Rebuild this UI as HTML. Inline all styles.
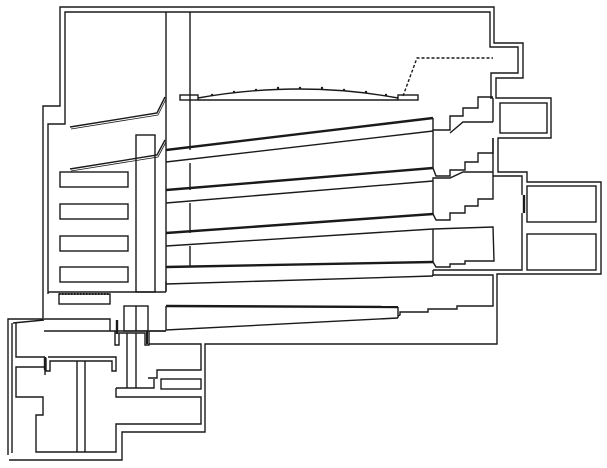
<!DOCTYPE html>
<html><head><meta charset="utf-8"><style>
html,body{margin:0;padding:0;background:#fff;}
svg{display:block;}
</style></head><body>
<svg width="607" height="468" viewBox="0 0 607 468" xmlns="http://www.w3.org/2000/svg" fill="none" stroke="#1a1a1a" stroke-width="1.4" stroke-linejoin="miter">
<rect width="607" height="468" fill="#fff" stroke="none"/>
<!-- outer wall -->
<polyline points="8,455 8,319 43,319 43,106 60,106 60,7 494,7 494,43 523,43 523,78 496,78 496,98 551,98 551,138 498,138 498,172 527,172 527,182 601,182 601,274 497,274 497,344 205,344 205,432 122,432 122,460 9,460"/>
<!-- inner wall -->
<polyline points="48,294 48,124 65,124 65,12 490,12 490,47 518,47 518,73 491,73 491,98"/>
<line x1="490" y1="98" x2="493" y2="98"/>
<line x1="493" y1="98" x2="493" y2="122"/>
<rect x="500" y="103" width="47" height="30"/>
<line x1="493" y1="138" x2="493" y2="176"/>
<polyline points="493,176 522,176 522,195"/>
<line x1="524" y1="195" x2="524" y2="213" stroke-width="2.4"/>
<polyline points="522,213 522,270 433,270"/>
<rect x="527" y="186" width="69" height="36"/>
<rect x="527" y="234" width="69" height="36"/>
<!-- columns -->
<line x1="166" y1="12" x2="166" y2="292"/>
<line x1="190" y1="12" x2="190" y2="150"/>
<line x1="190" y1="163" x2="190" y2="190"/>
<line x1="190" y1="203" x2="190" y2="233"/>
<line x1="190" y1="246" x2="190" y2="267"/>
<rect x="136" y="135" width="19" height="157"/>
<line x1="48" y1="292" x2="166" y2="292"/>
<!-- small rooms left -->
<rect x="60" y="172" width="68" height="15"/>
<rect x="60" y="204" width="68" height="15"/>
<rect x="60" y="236" width="68" height="15"/>
<rect x="60" y="267" width="68" height="15"/>
<rect x="59" y="294" width="51" height="10"/>
<line x1="59" y1="294" x2="110" y2="294" stroke-dasharray="1.5,1.5" stroke-width="2"/>
<!-- balconies left -->
<polyline points="70,127 157,113 165,97"/>
<polyline points="71,129 158,115 166,99" stroke-width="0.8"/>
<polyline points="70,169 157,155 165,140"/>
<polyline points="71,171 158,157 166,142" stroke-width="0.8"/>
<!-- ceiling -->
<rect x="180" y="95" width="18" height="5"/>
<path d="M198,98 Q300,80 398,98"/>
<line x1="198" y1="100" x2="398" y2="100"/>
<rect x="398" y="95" width="20" height="5"/>
<polyline points="403,96 417,58 493,58" stroke-dasharray="3,2"/>
<g fill="#1a1a1a" stroke="none">
<circle cx="212" cy="95" r="1.2"/><circle cx="234" cy="92" r="1.2"/><circle cx="256" cy="90" r="1.2"/><circle cx="278" cy="88" r="1.2"/><circle cx="300" cy="88" r="1.2"/><circle cx="322" cy="88" r="1.2"/><circle cx="344" cy="90" r="1.2"/><circle cx="366" cy="92" r="1.2"/><circle cx="386" cy="95" r="1.2"/>
</g>
<!-- tiers -->
<g>
<line x1="166" y1="150" x2="433" y2="118" stroke-width="2.4"/>
<line x1="166" y1="162" x2="433" y2="131"/>
<line x1="166" y1="190" x2="433" y2="168" stroke-width="2.4"/>
<line x1="166" y1="203" x2="433" y2="181"/>
<line x1="166" y1="233" x2="433" y2="214" stroke-width="2.4"/>
<line x1="166" y1="246" x2="433" y2="229"/>
<line x1="166" y1="267" x2="433" y2="262" stroke-width="2.4"/>
<line x1="166" y1="284" x2="433" y2="276"/>
</g>
<!-- right stairs -->
<polyline points="433,118 433,130 450,130 450,116 463,116 463,108 478,108 478,97 493,97"/>
<polyline points="450,133 463,122 493,122"/>
<line x1="433" y1="130" x2="433" y2="168"/>
<polyline points="433,168 436,176 450,176 450,170 465,170 465,162 478,162 478,153 493,153 493,138"/>
<polyline points="433,181 433,178 450,178 463,172 493,172"/>
<line x1="433" y1="181" x2="433" y2="214"/>
<polyline points="433,214 436,220 450,220 450,213 465,213 465,206 478,206 478,199 493,199 493,176"/>
<polyline points="433,229 493,227 494,261 465,261 465,264 450,264 450,267 436,267 433,262"/>
<line x1="433" y1="276" x2="433" y2="270"/>
<line x1="433" y1="229" x2="433" y2="262"/>
<!-- lowest tier -->
<polyline points="166,281 166,291"/>
<polyline points="433,276 433,275 493,275 493,306 457,306 457,309 428,309 428,312 400,312 400,315 398,316"/>
<line x1="166" y1="306" x2="398" y2="307" stroke-width="2.4"/>
<line x1="398" y1="307" x2="398" y2="318"/>
<polyline points="166,306 166,330 398,318"/>
<!-- lower block -->
<polyline points="44,319 110,319 110,331 44,331"/>
<line x1="110" y1="331" x2="166" y2="331"/>
<line x1="150" y1="331" x2="166" y2="331"/>
<rect x="124" y="306" width="24" height="25"/>
<line x1="136" y1="306" x2="136" y2="331"/>
<line x1="117" y1="320" x2="117" y2="334" stroke-width="2.4"/>
<polyline points="115,331 115,345 119,345 119,333 145,333 145,345 149,345 149,331"/>
<line x1="147" y1="331" x2="147" y2="344" stroke-width="2"/>
<polyline points="149,344 201,344 201,370 157,370 157,378 148,378"/>
<line x1="127" y1="333" x2="127" y2="388"/>
<line x1="136" y1="333" x2="136" y2="388"/>
<rect x="161" y="379" width="40" height="10"/>
<polyline points="116,388 154,388 154,379"/>
<polyline points="116,388 116,397 201,397 201,424 116,424 116,452 36,452 36,415 43,415 43,397 16,397 16,367 45,367 45,375"/>
<polyline points="13,323 44,320"/>
<polyline points="16,323 16,357 45,357"/>
<polyline points="48,357 116,357 116,371 112,371 112,361 50,361 50,371 46,371 46,358"/>
<line x1="45" y1="357" x2="45" y2="370" stroke-width="2.4"/>
<line x1="77" y1="361" x2="77" y2="452"/>
<line x1="85" y1="361" x2="85" y2="452"/>
<line x1="12" y1="323" x2="12" y2="453"/>
<line x1="166" y1="331" x2="497" y2="331" stroke="none"/>
</svg>
</body></html>
